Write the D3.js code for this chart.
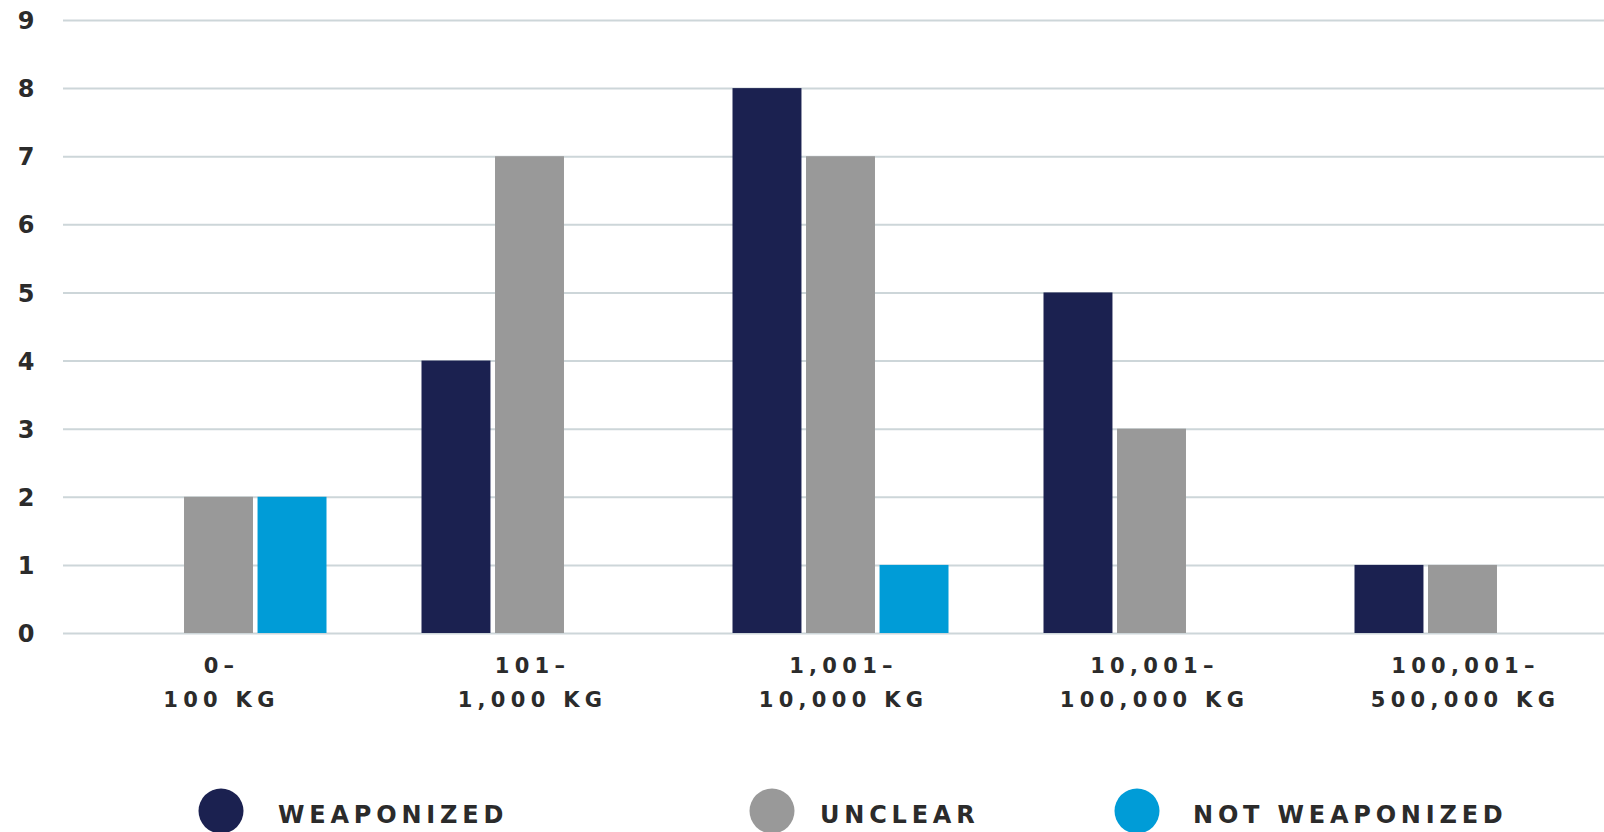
<!DOCTYPE html>
<html>
<head>
<meta charset="utf-8">
<script src="https://cdn.jsdelivr.net/npm/d3@7"></script>
<style>
  html, body { margin: 0; padding: 0; background: #fff; }
  svg { display: block; }
  .tick-label { font-family: "DejaVu Sans", "Liberation Sans", Arial, sans-serif; font-weight: bold; fill: #2b2b2b; }
</style>
</head>
<body>
<div id="container"></div>
<script>
// 数据
const categories = [['0–', '100 KG'], ['101–', '1,000 KG'], ['1,001–', '10,000 KG'], ['10,001–', '100,000 KG'], ['100,001–', '500,000 KG']];
const series = ['WEAPONIZED', 'UNCLEAR', 'NOT WEAPONIZED'];
const weaponized = [0, 4, 8, 5, 1];
const unclear = [2, 7, 7, 3, 1];
const notWeaponized = [2, 0, 1, 0, 0];
const yTicks = [0, 1, 2, 3, 4, 5, 6, 7, 8, 9];
const colors = ['#1b2150', '#999999', '#009cd7'];

const width = 1604;
const height = 832;
const margin = {left: 63, right: -14, top: 20, bottom: 199};

const svg = d3.select('#container')
    .append('svg')
    .attr('width', width)
    .attr('height', height);

// 比例尺
const y = d3.scaleLinear().domain([0, 9]).range([height - margin.bottom, margin.top]);
const x0 = d3.scaleBand()
    .domain(d3.range(categories.length))
    .range([margin.left, width - margin.right]);
const half = x0.bandwidth() / 2;
const x1 = d3.scaleBand()
    .domain(series)
    .range([half - 108, half + 108])
    .paddingInner(0.062);

// 网格线 + y轴
const yAxis = d3.axisLeft(y)
    .tickValues(yTicks)
    .tickSize(-(width - margin.left))
    .tickPadding(25);
const yAxisG = svg.append('g')
    .attr('transform', `translate(${margin.left},0)`)
    .call(yAxis);
yAxisG.select('.domain').remove();
yAxisG.selectAll('.tick line')
    .attr('stroke', '#cdd6d9')
    .attr('stroke-width', 2);
yAxisG.selectAll('.tick text')
    .attr('class', 'tick-label')
    .attr('text-anchor', 'middle')
    .attr('x', 26 - margin.left)
    .attr('dy', '0.36em')
    .style('font-size', '24px');

// 柱子
const rows = categories.map((c, i) => ({
    i,
    values: [weaponized[i], unclear[i], notWeaponized[i]]
}));
const group = svg.selectAll('.group')
    .data(rows)
    .enter()
    .append('g')
    .attr('class', 'group')
    .attr('transform', d => `translate(${x0(d.i)},0)`);
group.selectAll('rect')
    .data(d => d.values.map((v, k) => ({key: series[k], value: v, k})))
    .enter()
    .filter(d => d.value > 0)
    .append('rect')
    .attr('x', d => x1(d.key))
    .attr('width', x1.bandwidth())
    .attr('y', d => y(d.value))
    .attr('height', d => y(0) - y(d.value))
    .attr('fill', d => colors[d.k]);

// x轴标签
const xLabels = svg.selectAll('.xlabel')
    .data(categories)
    .enter()
    .append('text')
    .attr('class', 'tick-label')
    .attr('text-anchor', 'middle')
    .style('font-size', '21px')
    .style('letter-spacing', '5.3px');
xLabels.each(function (d, i) {
    const t = d3.select(this);
    d.forEach((line, j) => {
        t.append('tspan')
            .attr('x', x0(i) + half + 3)
            .attr('y', 673 + j * 34)
            .text(line);
    });
});

// 图例
const legendX = [221, 772, 1137];
const legendTextX = [278, 820, 1193];
const legend = svg.selectAll('.legend')
    .data(series)
    .enter()
    .append('g')
    .attr('class', 'legend');
legend.append('circle')
    .attr('cx', (d, i) => legendX[i])
    .attr('cy', 811)
    .attr('r', 22.5)
    .attr('fill', (d, i) => colors[i]);
legend.append('text')
    .attr('class', 'tick-label')
    .attr('x', (d, i) => legendTextX[i])
    .attr('y', 823)
    .style('font-size', '24px')
    .style('letter-spacing', '4.8px')
    .text(d => d);
</script>
</body>
</html>
